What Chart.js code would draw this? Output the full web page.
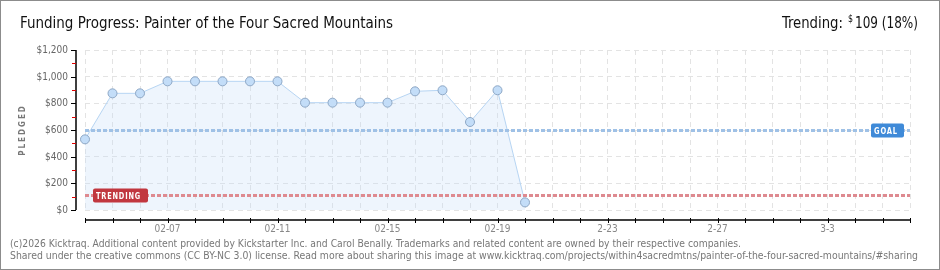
<!DOCTYPE html>
<html>
<head>
<meta charset="utf-8">
<script src="https://cdn.jsdelivr.net/npm/chart.js@4/dist/chart.umd.min.js"></script>
<style>
  html, body { margin: 0; padding: 0; background: #fff; }
  canvas { display: block; }
</style>
</head>
<body>
<canvas id="fundChart" width="940" height="270"></canvas>
<script>
// days on the x axis (02-04 .. 03-06)
const days = ['02-04','02-05','02-06','02-07','02-08','02-09','02-10','02-11','02-12','02-13',
  '02-14','02-15','02-16','02-17','02-18','02-19','02-20','02-21','02-22','02-23','02-24',
  '02-25','02-26','02-27','02-28','03-01','03-02','03-03','03-04','03-05','03-06'];
// pledged total per day
const pledged = [530, 875, 875, 965, 965, 965, 965, 965, 805, 805, 805, 805, 890, 898, 660, 898, 57];
// which days get a label, and how it is written
const tickDays = ['02-07','02-11','02-15','02-19','02-23','02-27','03-03'];
const tickText = ['02-07','02-11','02-15','02-19','2-23','2-27','3-3'];
const yTicks = [0, 200, 400, 600, 800, 1000, 1200];
const yMinor = [100, 300, 500, 700, 900, 1100];
const GOAL = 600;
const TRENDING = 109;

const TITLE = 'Funding Progress: Painter of the Four Sacred Mountains';
const FOOT1 = '(c)2026 Kicktraq. Additional content provided by Kickstarter Inc. and Carol Benally. Trademarks and related content are owned by their respective companies.';
const FOOT2 = 'Shared under the creative commons (CC BY-NC 3.0) license. Read more about sharing this image at www.kicktraq.com/projects/within4sacredmtns/painter-of-the-four-sacred-mountains/#sharing';

const FONT = '"DejaVu Sans Condensed", "DejaVu Sans", sans-serif';

// draw text squeezed/stretched to a given width
function fitText(ctx, text, x, y, width, font, align) {
    ctx.save();
    ctx.font = font;
    const w = ctx.measureText(text).width;
    const s = width / w;
    ctx.textAlign = 'left';
    let x0 = align === 'right' ? x - width : x;
    ctx.translate(x0, y);
    ctx.scale(s, 1);
    ctx.fillText(text, 0, 0);
    ctx.restore();
}

function tag(ctx, x, y, w, h, color, text, textW) {
    ctx.save();
    ctx.fillStyle = color;
    ctx.beginPath();
    ctx.roundRect(x, y, w, h, 2);
    ctx.fill();
    ctx.fillStyle = '#fff';
    ctx.textBaseline = 'alphabetic';
    ctx.letterSpacing = '1px';
    fitText(ctx, text, x + 3, y + h - 3.5, textW, 'bold 9px ' + FONT);
    ctx.restore();
}

const decor = {
    id: 'decor',
    beforeDraw(chart) {
        const ctx = chart.ctx;
        ctx.save();
        ctx.fillStyle = '#fff';
        ctx.fillRect(0, 0, chart.width, chart.height);
        ctx.strokeStyle = '#8c8c8c';
        ctx.lineWidth = 2;
        ctx.strokeRect(0, 0, chart.width, chart.height);

        ctx.fillStyle = '#111';
        ctx.textBaseline = 'alphabetic';
        fitText(ctx, TITLE, 20, 28, 373, '16px ' + FONT);
        fitText(ctx, 'Trending:', 782, 28, 61, '16px ' + FONT);
        fitText(ctx, '$', 848, 22, 5, '10px ' + FONT);
        fitText(ctx, '109 (18%)', 918, 28, 63, '16px ' + FONT, 'right');

        ctx.fillStyle = '#777';
        fitText(ctx, FOOT1, 10, 247, 731, '10px ' + FONT);
        fitText(ctx, FOOT2, 10, 259, 908, '10px ' + FONT);

        // y axis title
        ctx.save();
        ctx.translate(25, 130);
        ctx.rotate(-Math.PI / 2);
        ctx.font = 'bold 8px ' + FONT;
        ctx.letterSpacing = '2px';
        ctx.textAlign = 'center';
        ctx.fillStyle = '#777';
        ctx.fillText('PLEDGED', 0, 0);
        ctx.restore();
        ctx.restore();
    },
    afterDatasetsDraw(chart) {
        const ctx = chart.ctx;
        const area = chart.chartArea;
        const xs = chart.scales.x, ys = chart.scales.y;

        // goal + trending reference lines
        ctx.save();
        ctx.lineWidth = 3;
        ctx.setLineDash([4, 2]);
        const gy = Math.round(ys.getPixelForValue(GOAL)) + 0.5;
        ctx.strokeStyle = '#9fc1e6';
        ctx.beginPath(); ctx.moveTo(area.left, gy); ctx.lineTo(area.right, gy); ctx.stroke();
        const ty = Math.round(ys.getPixelForValue(TRENDING)) + 0.5;
        ctx.strokeStyle = '#de8a90';
        ctx.beginPath(); ctx.moveTo(area.left, ty); ctx.lineTo(area.right, ty); ctx.stroke();
        ctx.restore();
        tag(ctx, area.right - 39, gy - 7, 33, 14, '#3f8ad8', 'GOAL', 24);
        tag(ctx, area.left + 8, ty - 7, 55, 14, '#c1373f', 'TRENDING', 45);

        // axes drawn offset from the plot area
        ctx.save();
        const ax = area.left - 9;
        const ay = area.bottom + 10;
        ctx.strokeStyle = '#000';
        ctx.lineWidth = 1.5;
        ctx.beginPath();
        ctx.moveTo(ax, ys.getPixelForValue(1200));
        ctx.lineTo(ax, ys.getPixelForValue(0));
        ctx.moveTo(area.left, ay);
        ctx.lineTo(area.right, ay);
        ctx.stroke();

        ctx.lineWidth = 1;
        ctx.font = '10px ' + FONT;
        ctx.fillStyle = '#666';
        ctx.textAlign = 'right';
        ctx.textBaseline = 'middle';
        yTicks.forEach(v => {
            const y = Math.round(ys.getPixelForValue(v)) + 0.5;
            ctx.beginPath(); ctx.moveTo(ax - 5, y); ctx.lineTo(ax, y); ctx.stroke();
            ctx.fillText('$' + v.toLocaleString('en-US'), ax - 8, y);
        });
        ctx.strokeStyle = '#e00000';
        yMinor.forEach(v => {
            const y = Math.round(ys.getPixelForValue(v)) + 0.5;
            ctx.beginPath(); ctx.moveTo(ax - 4, y); ctx.lineTo(ax, y); ctx.stroke();
        });

        ctx.strokeStyle = '#000';
        days.forEach((d, i) => {
            const x = Math.round(xs.getPixelForValue(i)) + 0.5;
            ctx.beginPath(); ctx.moveTo(x, ay - 2); ctx.lineTo(x, ay + 3); ctx.stroke();
        });
        ctx.textAlign = 'center';
        ctx.fillStyle = '#888';
        tickDays.forEach((d, i) => {
            const x = xs.getPixelForValue(days.indexOf(d));
            ctx.fillText(tickText[i], x, ay + 9);
        });
        ctx.restore();
    }
};

new Chart(document.getElementById('fundChart').getContext('2d'), {
    type: 'line',
    data: {
        labels: days,
        datasets: [{
            label: 'Pledged',
            data: pledged,
            borderColor: '#b7d5f3',
            backgroundColor: 'rgba(200, 222, 248, 0.3)',
            borderWidth: 1,
            fill: 'origin',
            tension: 0,
            pointRadius: 4.5,
            pointBackgroundColor: '#c3ddf8',
            pointBorderColor: '#8ea8c6',
            pointBorderWidth: 1,
            clip: false
        }]
    },
    options: {
        responsive: false,
        animation: false,
        devicePixelRatio: 1,
        layout: { padding: { left: 85, right: 30, top: 50, bottom: 60 } },
        plugins: { legend: { display: false }, tooltip: { enabled: false } },
        scales: {
            x: {
                type: 'category',
                offset: false,
                ticks: { display: false },
                grid: { color: '#e3e3e3', drawTicks: false, lineWidth: 1 },
                border: { display: false, dash: [5, 4] }
            },
            y: {
                min: 0,
                max: 1200,
                ticks: { display: false, stepSize: 200 },
                grid: { color: '#e3e3e3', drawTicks: false, lineWidth: 1 },
                border: { display: false, dash: [5, 4] }
            }
        }
    },
    plugins: [decor]
});
</script>
</body>
</html>
